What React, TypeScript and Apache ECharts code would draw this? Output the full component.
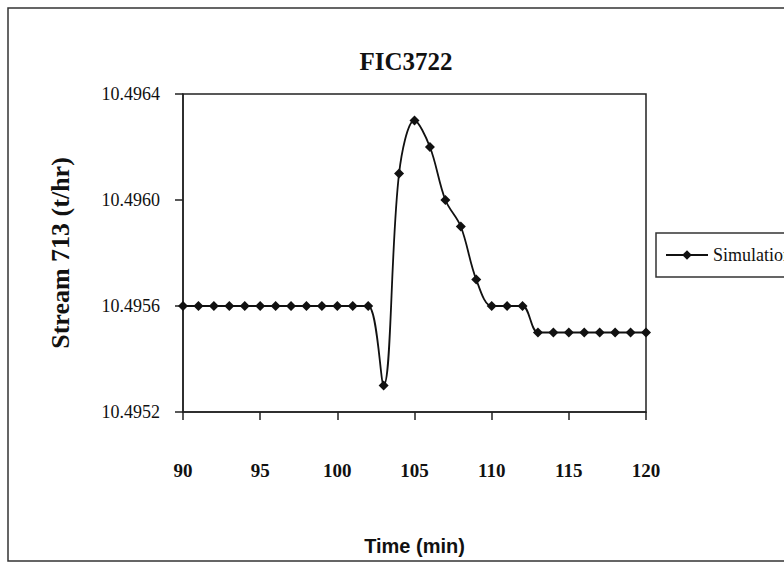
import React, { useEffect, useRef } from "react";
import * as echarts from "echarts";

const times = [90, 91, 92, 93, 94, 95, 96, 97, 98, 99, 100, 101, 102, 103, 104, 105, 106, 107, 108, 109, 110, 111, 112, 113, 114, 115, 116, 117, 118, 119, 120];
const simulation = [
  10.4956, 10.4956, 10.4956, 10.4956, 10.4956, 10.4956, 10.4956, 10.4956, 10.4956, 10.4956,
  10.4956, 10.4956, 10.4956, 10.4953, 10.4961, 10.4963, 10.4962, 10.496, 10.4959, 10.4957,
  10.4956, 10.4956, 10.4956, 10.4955, 10.4955, 10.4955, 10.4955, 10.4955, 10.4955, 10.4955,
  10.4955,
];
const titleText = "FIC3722";
const yName = "Stream 713 (t/hr)";
const xName = "Time (min)";
const seriesName = "Simulation";

const SERIF = "'Liberation Serif', 'Times New Roman', serif";
const NARROW = "'Liberation Sans Narrow', 'Arial Narrow', 'Liberation Sans', sans-serif";

export default function App() {
  const ref = useRef<HTMLDivElement>(null);
  useEffect(() => {
    if (!ref.current) return;
    const chart = echarts.init(ref.current, undefined, { renderer: "svg" });
    chart.setOption({
      animation: false,
      backgroundColor: "#ffffff",
      graphic: [
        {
          type: "rect",
          shape: { x: 8, y: 8, width: 800, height: 553 },
          style: { fill: "none", stroke: "#333", lineWidth: 1.5 },
          silent: true,
        },
        {
          type: "text",
          x: 406,
          y: 61,
          style: {
            text: titleText,
            fill: "#111",
            font: `bold 25px ${SERIF}`,
            textAlign: "center",
            textVerticalAlign: "middle",
          },
        },
      ],
      legend: {
        left: 656,
        top: 233,
        padding: [13, 8, 13, 9],
        itemWidth: 42,
        itemHeight: 12,
        borderColor: "#333",
        borderWidth: 1.5,
        textStyle: { fontFamily: SERIF, fontSize: 18, color: "#111" },
        data: [seriesName],
      },
      grid: {
        left: 183,
        right: 138,
        top: 94,
        bottom: 151,
        outerBoundsMode: "none",
        containLabel: false,
        show: true,
        borderColor: "#222",
        borderWidth: 1.5,
        backgroundColor: "transparent",
      },
      xAxis: {
        type: "value",
        min: 90,
        max: 120,
        interval: 5,
        name: xName,
        nameLocation: "middle",
        nameGap: 124,
        nameTextStyle: { fontFamily: NARROW, fontWeight: "bold", fontSize: 20, color: "#111" },
        axisLine: { show: true, lineStyle: { color: "#222", width: 1.5 } },
        axisTick: { show: true, length: 8, lineStyle: { color: "#222", width: 1.5 } },
        axisLabel: { margin: 49, fontFamily: SERIF, fontWeight: "bold", fontSize: 19, color: "#111" },
        splitLine: { show: false },
      },
      yAxis: {
        type: "value",
        min: 10.4952,
        max: 10.4964,
        interval: 0.0004,
        name: yName,
        nameLocation: "middle",
        nameGap: 110,
        nameTextStyle: { fontFamily: SERIF, fontWeight: "bold", fontSize: 26, color: "#111" },
        axisLine: { show: true, lineStyle: { color: "#222", width: 1.5 } },
        axisTick: { show: true, length: 8, lineStyle: { color: "#222", width: 1.5 } },
        axisLabel: {
          margin: 23,
          fontFamily: SERIF,
          fontSize: 18,
          color: "#111",
          formatter: (v: number) => v.toFixed(4),
        },
        splitLine: { show: false },
      },
      series: [
        {
          name: seriesName,
          type: "line",
          data: times.map((t, i) => [t, simulation[i]]),
          smooth: 0.35,
          symbol: "diamond",
          symbolSize: 10,
          lineStyle: { color: "#111", width: 1.8 },
          itemStyle: { color: "#111" },
        },
      ],
    });
    return () => chart.dispose();
  }, []);
  return <div ref={ref} style={{ position: "fixed", left: 0, top: 0, width: 784, height: 563 }} />;
}
